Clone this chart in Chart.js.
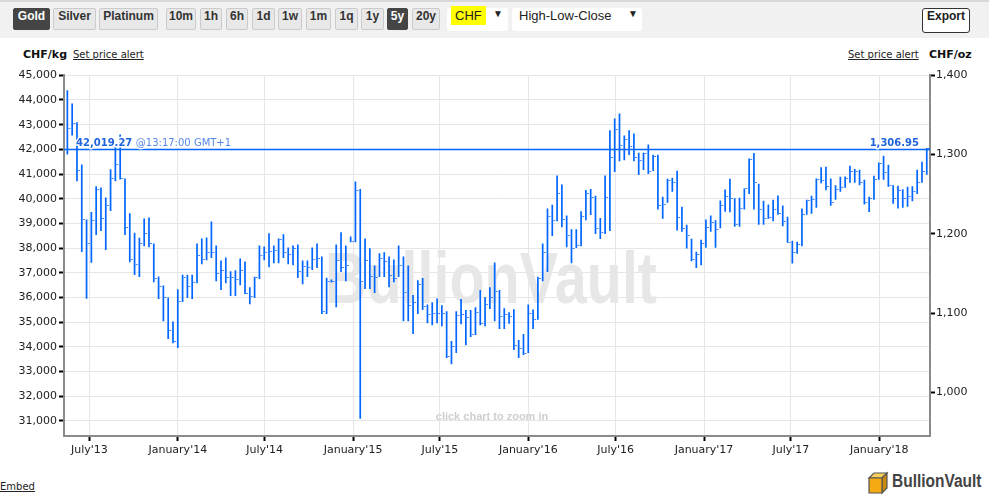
<!DOCTYPE html>
<html lang="en">
<head>
<meta charset="UTF-8">
<title>Gold price in CHF - 5 years</title>
<script src="https://cdn.jsdelivr.net/npm/chart.js"></script>
<style>
    body {
        margin: 0;
        background: #fff;
        font-family: 'DejaVu Sans', Verdana, sans-serif;
        color: #222;
        overflow: hidden;
    }
    .page { position: relative; width: 989px; height: 500px; overflow: hidden; }
    .toolbar {
        position: absolute; left: 0; top: 0; width: 989px; height: 38px;
        background: #f1f1f1; border-top: 2px solid #d8d8d8; box-sizing: border-box;
    }
    .btn {
        position: absolute; top: 6px; height: 22px; line-height: 21px;
        box-sizing: border-box; border: 1px solid #cbcbcb; border-radius: 2px;
        background: #e8e8e8; color: #333; text-align: center;
        font: bold 12px 'Liberation Sans', Arial, sans-serif;
    }
    .btn.on { background: #454545; border-color: #454545; color: #fff; }
    .select {
        position: absolute; top: 6px; height: 23px; line-height: 23px;
        background: #fff; border-radius: 3px; font: 13px 'Liberation Sans', Arial, sans-serif; color: #222;
    }
    .select .arrow { position: absolute; top: 0; font-size: 10px; }
    .hl { background: #ffff00; padding: 2px 4px; }
    .export {
        position: absolute; left: 922px; top: 6px; width: 48px; height: 25px; line-height: 23px;
        box-sizing: border-box; border: 1px solid #333; border-radius: 3px; background: #fff;
        text-align: center; font: bold 12px 'Liberation Sans', Arial, sans-serif; color: #222;
    }
    .unit { position: absolute; top: 48px; font-size: 11px; font-weight: bold; color: #111; }
    .alert { position: absolute; top: 49px; font-size: 10px; color: #222; text-decoration: underline; }
    #chart { position: absolute; left: 0; top: 40px; }
    .embed { position: absolute; left: 0; top: 481px; font-size: 10px; text-decoration: underline; color: #222; }
    .logo { position: absolute; left: 866px; top: 471px; height: 24px; }
    .logo span {
        position: absolute; left: 26px; top: 0; font: bold 18px 'Liberation Sans', Arial, sans-serif;
        color: #444; transform: scaleX(0.86); transform-origin: left top; white-space: nowrap;
    }
</style>
</head>
<body>
<div class="page">
    <div class="toolbar">
        <div class="btn on" style="left:13px;width:37px">Gold</div>
        <div class="btn" style="left:53px;width:43px">Silver</div>
        <div class="btn" style="left:99px;width:59px">Platinum</div>
        <div class="btn" style="left:166px;width:30px">10m</div>
        <div class="btn" style="left:200px;width:22px">1h</div>
        <div class="btn" style="left:226px;width:22px">6h</div>
        <div class="btn" style="left:252px;width:23px">1d</div>
        <div class="btn" style="left:278px;width:24px">1w</div>
        <div class="btn" style="left:306px;width:25px">1m</div>
        <div class="btn" style="left:335px;width:23px">1q</div>
        <div class="btn" style="left:361px;width:23px">1y</div>
        <div class="btn on" style="left:387px;width:21px">5y</div>
        <div class="btn" style="left:412px;width:28px">20y</div>
        <div class="select" style="left:447px;width:61px"><span class="hl" style="margin-left:4px">CHF</span><span class="arrow" style="left:46px">&#9660;</span></div>
        <div class="select" style="left:512px;width:130px"><span style="margin-left:7px">High-Low-Close</span><span class="arrow" style="left:116px">&#9660;</span></div>
        <div class="export">Export</div>
    </div>

    <div class="unit" style="left:23px">CHF/kg</div>
    <div class="alert" style="left:73px">Set price alert</div>
    <div class="alert" style="left:848px">Set price alert</div>
    <div class="unit" style="left:929px">CHF/oz</div>

    <canvas id="chart" width="989" height="420"></canvas>

    <div class="embed">Embed</div>
    <div class="logo">
        <svg width="24" height="24" viewBox="0 0 24 24">
            <polygon points="3,7 8,2 21,2 16,7" fill="#fbd35c" stroke="#555" stroke-width="1.2"/>
            <polygon points="16,7 21,2 21,17 16,22" fill="#c98a0c" stroke="#555" stroke-width="1.2"/>
            <polygon points="3,7 16,7 16,22 3,22" fill="#f5a912" stroke="#555" stroke-width="1.2"/>
        </svg>
        <span>BullionVault</span>
    </div>
</div>

<script>
    // gold price, CHF per kg, one bar every 10 days
    const OZ_PER_KG = 32.1507;
    const DAY = 86400000;
    const firstBar = Date.UTC(2013, 4, 16);
    const barDays = 10;

    const highs = [
        44390, 43860, 43100, 41390, 39160, 39460, 40510, 40460, 40050, 41190,
        42200, 42600, 40820, 39410, 38620, 38420, 39200, 39240, 38190, 36850,
        36490, 36000, 35030, 36330, 36920, 36920, 36920, 38190, 38390, 38430,
        39080, 38110, 37500, 37620, 37060, 37100, 37580, 37460, 36420, 36840,
        38110, 38070, 38600, 38110, 38390, 38560, 38030, 38110, 38150, 37500,
        37500, 38030, 38190, 37660, 36800, 36730, 38150, 38640, 38110, 38470,
        40700, 40390, 38390, 37990, 37300, 37790, 37830, 37660, 37540, 38110,
        37660, 37300, 36100, 36700, 36790, 35720, 35810, 35960, 35690, 35440,
        34240, 35440, 35940, 35490, 35490, 35610, 36300, 36020, 36420, 37420,
        36300, 35560, 35400, 35520, 34280, 34520, 35720, 35510, 36840, 38190,
        39600, 39760, 40940, 40580, 39320, 38760, 38760, 39490, 40350, 40390,
        40120, 39220, 40940, 42770, 43250, 43450, 42560, 42770, 42640, 41860,
        41860, 42200, 41780, 41780, 40080, 40810, 40850, 41130, 39680, 38950,
        38380, 37850, 38340, 39160, 39320, 39130, 39930, 40370, 40810, 40020,
        40040, 40410, 41630, 41850, 40610, 39920, 39770, 39960, 40130, 39730,
        39270, 38300, 38260, 39600, 39960, 40120, 40820, 41280, 41300, 40820,
        40550, 40890, 40900, 41340, 41200, 41170, 40770, 40080, 40930, 41470,
        41740, 41380, 40550, 40530, 40380, 40490, 40510, 41170, 41500, 42060
    ];
    const lows = [
        41790, 42560, 40710, 37840, 35950, 37410, 38530, 38690, 37920, 39500,
        40710, 40780, 38530, 37430, 36910, 36830, 38080, 38040, 36620, 35940,
        35040, 34320, 34150, 33950, 35820, 35980, 35940, 36580, 37350, 37510,
        37600, 36660, 36300, 36580, 36060, 36060, 36500, 36140, 35730, 35980,
        36750, 37510, 37230, 37390, 37390, 37600, 37350, 37310, 36790, 36540,
        36830, 37110, 37190, 35330, 35330, 36610, 35610, 37030, 36660, 38240,
        38240, 31090, 36340, 36340, 36180, 36830, 36830, 36420, 36620, 36830,
        35040, 35040, 34520, 35330, 35490, 34960, 34880, 34960, 34840, 33550,
        33300, 33750, 34920, 34070, 34400, 34480, 34880, 34840, 35530, 35040,
        34720, 34720, 34940, 33870, 33550, 33670, 33750, 34720, 35100, 36660,
        37030, 38490, 39090, 38850, 38040, 37390, 38000, 38080, 39130, 39340,
        38570, 38370, 38570, 38690, 41080, 41520, 41560, 41770, 41520, 40960,
        41160, 41000, 41120, 39560, 39190, 39840, 40280, 38710, 38660, 37980,
        37470, 37190, 37310, 38020, 38660, 38010, 38800, 39470, 39450, 38870,
        38870, 39560, 40190, 39560, 38950, 38950, 39190, 39090, 39350, 38890,
        38220, 37380, 37770, 38080, 39350, 39390, 39640, 40630, 40340, 39720,
        39960, 40280, 40450, 40650, 40650, 40550, 39770, 39460, 39960, 40770,
        40770, 40490, 39800, 39600, 39640, 39680, 39900, 40190, 40650, 40970
    ];
    const closes = [
        42850, 43050, 41160, 39160, 38190, 39120, 40380, 39200, 39730, 40820,
        41390, 40820, 38840, 37540, 37330, 38180, 38600, 38180, 36770, 36440,
        36000, 34660, 34210, 35830, 36800, 36440, 36600, 37690, 37530, 37810,
        37810, 36960, 37090, 36800, 36800, 36720, 37090, 36180, 36030, 36830,
        37690, 37810, 37850, 37890, 38340, 37810, 37730, 37980, 37050, 37250,
        37210, 37540, 37580, 35450, 36640, 36640, 37500, 37220, 37290, 38270,
        40320, 36640, 37500, 36840, 36800, 37580, 37460, 36880, 36760, 37300,
        36190, 35690, 35810, 36520, 35650, 35330, 35370, 35370, 35370, 33630,
        34030, 35290, 35330, 35170, 34520, 35410, 34960, 35730, 35980, 36260,
        35250, 35300, 35220, 34070, 33950, 33750, 35340, 35100, 36760, 37810,
        39270, 39110, 40200, 39150, 38510, 37970, 38100, 39300, 40200, 40040,
        38790, 38620, 40040, 41660, 42790, 42150, 42390, 42110, 41660, 41540,
        41820, 41120, 41700, 39720, 39760, 40730, 40650, 39230, 38790, 38500,
        37530, 37730, 38180, 38830, 39050, 38750, 39710, 40100, 40000, 38950,
        39600, 40410, 41600, 40670, 39560, 39190, 39230, 39560, 39390, 39070,
        38220, 37810, 38140, 39350, 39920, 39960, 40780, 40730, 40510, 39840,
        40370, 40450, 40830, 41090, 41120, 40670, 39840, 40000, 40780, 41420,
        41050, 40550, 40000, 40340, 40000, 40080, 40300, 40650, 41090, 42019.27
    ];

    const tickDates = [
        Date.UTC(2013, 6, 1), Date.UTC(2014, 0, 1), Date.UTC(2014, 6, 1), Date.UTC(2015, 0, 1),
        Date.UTC(2015, 6, 1), Date.UTC(2016, 0, 1), Date.UTC(2016, 6, 1), Date.UTC(2017, 0, 1),
        Date.UTC(2017, 6, 1), Date.UTC(2018, 0, 1)
    ];
    const tickLabels = ["July'13", "January'14", "July'14", "January'15", "July'15",
                        "January'16", "July'16", "January'17", "July'17", "January'18"];
    const kgTicks = [31000, 32000, 33000, 34000, 35000, 36000, 37000, 38000,
                     39000, 40000, 41000, 42000, 43000, 44000, 45000];
    const ozTicks = [1000, 1100, 1200, 1300, 1400];

    const lastPrice = 42019.27;
    const lastTime = '@13:17:00 GMT+1';

    const yMin = 30390, yMax = 45000;
    const xMin = Date.UTC(2013, 4, 9), xMax = Date.UTC(2018, 3, 16, 17);

    const BLUE = '#0066ff';

    function fmt(v, dec) {
        const parts = v.toFixed(dec || 0).split('.');
        parts[0] = parts[0].replace(/\B(?=(\d{3})+(?!\d))/g, ',');
        return parts.join('.');
    }

    const barDates = highs.map((h, i) => firstBar + i * barDays * DAY);

    // small tick to the right of each bar for the close
    const closeMark = document.createElement('canvas');
    closeMark.width = 10;
    closeMark.height = 1;
    const cm = closeMark.getContext('2d');
    cm.fillStyle = 'rgba(0, 102, 255, 0.75)';
    cm.fillRect(6, 0, 2, 1);

    const overlay = {
        id: 'overlay',
        beforeDatasetsDraw(chart) {
            const { ctx, chartArea: a } = chart;
            ctx.save();
            ctx.font = 'bold 72px "Liberation Sans", Arial, sans-serif';
            const w = ctx.measureText('BullionVault').width;
            ctx.translate((a.left + a.right) / 2 - 6, a.bottom - 133);
            ctx.scale(332 / w, 1);
            ctx.fillStyle = '#e7e7e7';
            ctx.textAlign = 'center';
            ctx.fillText('BullionVault', 0, 0);
            ctx.restore();

            ctx.save();
            ctx.font = 'bold 11px "Liberation Sans", Arial, sans-serif';
            ctx.fillStyle = '#cfcfcf';
            ctx.textAlign = 'center';
            ctx.textBaseline = 'middle';
            ctx.fillText('click chart to zoom in', (a.left + a.right) / 2 - 5, a.bottom - 19);
            ctx.restore();
        },
        afterDatasetsDraw(chart) {
            const { ctx, chartArea: a, scales } = chart;
            const y = Math.round(scales.y.getPixelForValue(lastPrice)) + 0.5;
            ctx.save();
            ctx.globalAlpha = 1;
            ctx.setLineDash([]);
            ctx.strokeStyle = BLUE;
            ctx.lineWidth = 1.3;
            ctx.beginPath();
            ctx.moveTo(a.left, y);
            ctx.lineTo(a.right, y);
            ctx.stroke();

            ctx.textBaseline = 'middle';
            ctx.lineWidth = 3;
            ctx.strokeStyle = '#fff';
            ctx.lineJoin = 'round';

            const priceText = fmt(lastPrice, 2);
            ctx.font = 'bold 10px "DejaVu Sans", Verdana, sans-serif';
            ctx.textAlign = 'left';
            const x0 = a.left + 12;
            ctx.strokeText(priceText, x0, y - 6);
            ctx.fillStyle = '#1f64dc';
            ctx.fillText(priceText, x0, y - 6);
            const pw = ctx.measureText(priceText + ' ').width;

            ctx.font = '10px "DejaVu Sans", Verdana, sans-serif';
            ctx.strokeText(lastTime, x0 + pw, y - 6);
            ctx.fillStyle = '#5588e6';
            ctx.fillText(lastTime, x0 + pw, y - 6);

            const ozText = fmt(lastPrice / OZ_PER_KG, 2);
            ctx.font = 'bold 10px "DejaVu Sans", Verdana, sans-serif';
            ctx.textAlign = 'right';
            ctx.strokeText(ozText, a.right - 11, y - 6);
            ctx.fillStyle = '#1f64dc';
            ctx.fillText(ozText, a.right - 11, y - 6);
            ctx.restore();
        }
    };

    const tickFont = { family: "'DejaVu Sans', Verdana, sans-serif", size: 11 };

    new Chart(document.getElementById('chart'), {
        type: 'bar',
        data: {
            datasets: [{
                type: 'bar',
                label: 'High-Low',
                data: barDates.map((d, i) => ({ x: d, y: [lows[i], highs[i]] })),
                backgroundColor: BLUE,
                borderWidth: 0,
                barThickness: 1.7,
                inflateAmount: 0,
                grouped: false,
                yAxisID: 'y'
            }, {
                type: 'scatter',
                label: 'Close',
                data: barDates.map((d, i) => ({ x: d, y: closes[i] })),
                pointStyle: closeMark,
                pointRadius: 3,
                yAxisID: 'y'
            }]
        },
        options: {
            responsive: false,
            animation: false,
            events: [],
            layout: { padding: { top: 35.3, right: 0, bottom: 0, left: 0 } },
            plugins: {
                legend: { display: false },
                tooltip: { enabled: false }
            },
            scales: {
                x: {
                    type: 'linear',
                    min: xMin,
                    max: xMax,
                    offset: false,
                    afterBuildTicks: s => { s.ticks = tickDates.map(v => ({ value: v })); },
                    afterFit: s => { s.height = 24; },
                    ticks: {
                        callback: (v, i) => tickLabels[i],
                        autoSkip: false,
                        maxRotation: 0,
                        color: '#222',
                        font: tickFont,
                        padding: 3
                    },
                    grid: {
                        offset: false,
                        color: '#e6e6e6',
                        lineWidth: 1,
                        tickColor: '#000',
                        tickWidth: 2,
                        tickLength: 5
                    },
                    border: { color: '#8a8a8a', width: 2 }
                },
                y: {
                    type: 'linear',
                    position: 'left',
                    min: yMin,
                    max: yMax,
                    afterBuildTicks: s => { s.ticks = kgTicks.map(v => ({ value: v })); },
                    afterFit: s => { s.width = 64; },
                    ticks: {
                        callback: v => fmt(v),
                        color: '#222',
                        font: tickFont,
                        padding: 2
                    },
                    grid: {
                        color: '#e6e6e6',
                        lineWidth: 1,
                        tickColor: '#000',
                        tickWidth: 2,
                        tickLength: 5
                    },
                    border: { color: '#8a8a8a', width: 2 }
                },
                y2: {
                    type: 'linear',
                    position: 'right',
                    min: yMin / OZ_PER_KG,
                    max: yMax / OZ_PER_KG,
                    afterBuildTicks: s => { s.ticks = ozTicks.map(v => ({ value: v })); },
                    afterFit: s => { s.width = 59; },
                    ticks: {
                        callback: v => fmt(v),
                        color: '#222',
                        font: tickFont,
                        padding: 1
                    },
                    grid: {
                        drawOnChartArea: false,
                        tickColor: '#000',
                        tickWidth: 2,
                        tickLength: 5
                    },
                    border: { color: '#8a8a8a', width: 2 }
                }
            }
        },
        plugins: [overlay]
    });
</script>
</body>
</html>
